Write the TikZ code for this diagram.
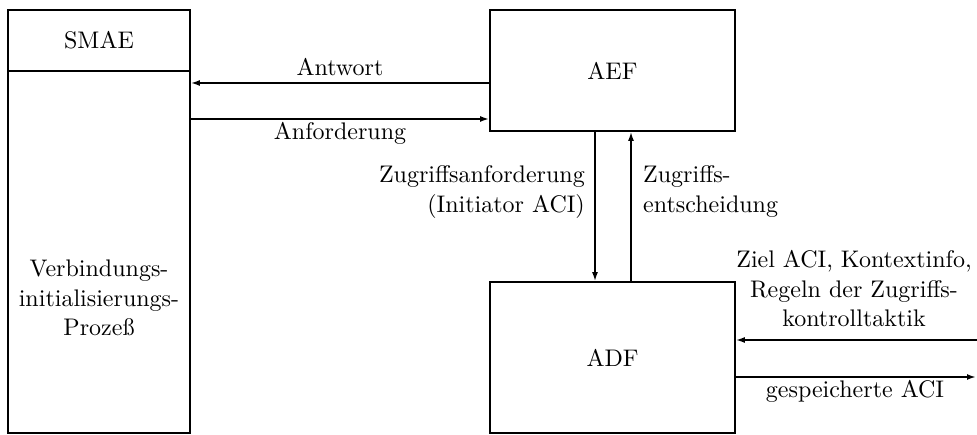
\documentclass[tikz,border=0pt]{standalone}
\usepackage{fontspec}
\setmainfont{lmroman10-regular.otf}
\usetikzlibrary{arrows.meta}
\begin{document}
\begin{tikzpicture}[x=1pt,y=-1pt,
  box/.style={draw, line width=1.8pt, inner sep=0pt, font=\fontsize{24}{29.5}\selectfont},
  lbl/.style={font=\fontsize{24}{29.5}\selectfont, inner sep=0pt},
  arr/.style={line width=1.6pt, -{Latex[length=9pt,width=6pt]}},
  arrb/.style={line width=2.4pt, -{Latex[length=9pt,width=6pt]}}]
\useasboundingbox (0,0) rectangle (977,435);
% boxes
\node[box, minimum width=182pt, minimum height=423pt] (smae) at (99,221.5) {};
\node[box, minimum width=245pt, minimum height=121pt] (aef) at (612.5,70.5) {AEF};
\node[box, minimum width=245pt, minimum height=151pt] (adf) at (612.5,357.5) {ADF};
\coordinate (dv) at (0,71);
\draw[line width=1.8pt] (smae.west |- dv) -- (smae.east |- dv);
\node[lbl, anchor=base] (smaet) at (99,49) {SMAE};
\node[lbl, anchor=base, align=center] (vip) at (99,336) {Verbindungs-\\initialisierungs-\\Prozeß};
% helper coordinates
\coordinate (ya) at (0,83);
\coordinate (yb) at (0,119);
\coordinate (xd) at (595,0);
\coordinate (xu) at (631,0);
\coordinate (rin) at (977,340);
\coordinate (rout) at (976,377);
% connectors
\draw[arr] (aef.west |- ya) -- (smae.east |- ya);
\draw[arrb] (smae.east |- yb) -- (aef.west |- yb);
\draw[arr] (aef.south -| xd) -- (adf.north -| xd);
\draw[arr] (adf.north -| xu) -- (aef.south -| xu);
\draw[arr] (rin) -- (adf.east |- rin);
\draw[arrb] (adf.east |- rout) -- (rout);
% labels
\node[lbl, anchor=base] (l1) at (340,76) {Antwort};
\node[lbl, anchor=base] (l2) at (340,140) {Anforderung};
\node[lbl, anchor=base east, align=right] (l3) at (585,212.5) {Zugriffsanforderung\\(Initiator ACI)};
\node[lbl, anchor=base west, align=left] (l4) at (643,212.5) {Zugriffs-\\entscheidung};
\node[lbl, anchor=base, align=center] (l5) at (854,327) {Ziel ACI, Kontextinfo,\\Regeln der Zugriffs-\\kontrolltaktik};
\node[lbl, anchor=base] (l6) at (855,397) {gespeicherte ACI};
\end{tikzpicture}
\end{document}
